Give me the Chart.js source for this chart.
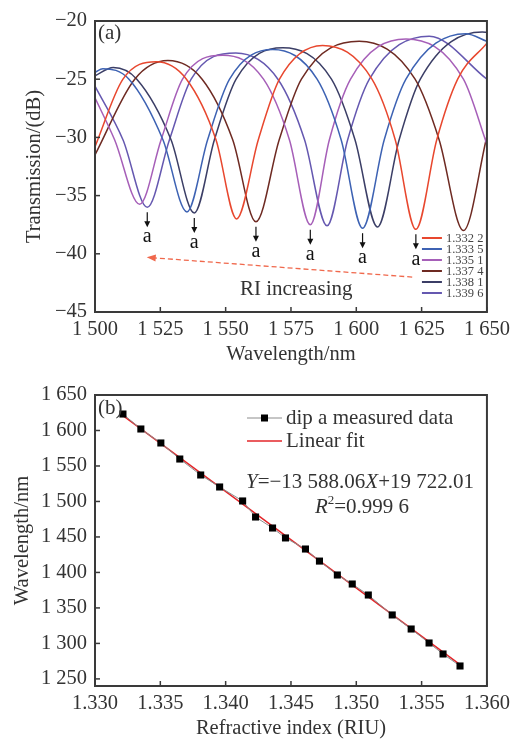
<!DOCTYPE html>
<html>
<head>
<meta charset="utf-8">
<script src="https://cdn.jsdelivr.net/npm/chart.js@4.4.0/dist/chart.umd.min.js"></script>
<style>
  html, body { margin: 0; padding: 0; background: #fff; }
  #wrapA { position: absolute; left: 0; top: 0; width: 515px; height: 370px; }
  #wrapB { position: absolute; left: 0; top: 370px; width: 515px; height: 373px; }
</style>
</head>
<body>
<div id="wrapA"><canvas id="chartA" width="515" height="370"></canvas></div>
<div id="wrapB"><canvas id="chartB" width="515" height="373"></canvas></div>
<script>
// ---- (a) transmission spectra ----
const riLabels = ['1.332 2', '1.333 5', '1.335 1', '1.337 4', '1.338 1', '1.339 6'];
const lineColors = ['#e8472e', '#3d62b3', '#a65fb8', '#6e2a22', '#3b3e66', '#6558b0'];

const wl1 = [1500, 1510.7, 1523.4, 1535, 1546.3, 1554.2, 1562.5, 1570.6, 1587.1, 1606, 1614.9, 1622.8, 1630.8, 1638.8, 1650];
const db1 = [-30.8, -25, -23.5, -25, -30.2, -37.0, -30.2, -25, -22.1, -25, -30.2, -37.9, -30.2, -25, -21.9];

const wl2 = [1500, 1503, 1513, 1526.0, 1535.2, 1543.1, 1551.5, 1568, 1585, 1594.2, 1602.4, 1610.7, 1619, 1641.9, 1650];
const db2 = [-24.4, -24.1, -25, -30.2, -36.4, -30.2, -25, -22.45, -25, -30.2, -37.8, -30.2, -25, -21.1, -21.75];

const wl3 = [1500, 1507.5, 1517.1, 1525.3, 1533.5, 1548.9, 1564.5, 1574.4, 1582.4, 1589.7, 1597.8, 1619, 1641, 1650];
const db3 = [-26.6, -30.2, -35.75, -30.2, -25, -22.95, -25, -30.2, -37.5, -30.2, -25, -21.55, -25, -30.6];

const wl4 = [1500, 1515.2, 1527.9, 1541, 1552.7, 1561.6, 1570.5, 1579, 1601.1, 1622.5, 1631.7, 1641, 1650];
const db4 = [-31.5, -25, -23.4, -25, -30.2, -37.25, -30.2, -25, -21.75, -25, -30.2, -38.0, -29.9];

const wl5 = [1500, 1507, 1516, 1529.1, 1538.0, 1545.7, 1554, 1571.8, 1590.5, 1599.5, 1608.1, 1616.4, 1624.5, 1648.2, 1650];
const db5 = [-24.7, -24.0, -25, -30.2, -36.5, -30.2, -25, -22.3, -25, -30.2, -37.7, -30.2, -25, -20.95, -20.96];

const wl6 = [1500, 1510.7, 1520.0, 1528.5, 1536.8, 1553.9, 1570, 1580.2, 1588.8, 1596.7, 1605, 1627.9, 1650];
const db6 = [-25.6, -30.2, -36.0, -30.2, -25, -22.75, -25, -30.2, -37.6, -30.2, -25, -21.3, -25.0];

// dip "a" positions (arrows)
const dipAWl = [1622.8, 1602.4, 1582.4, 1561.6, 1538.0, 1520.0];
const dipADb = [-37.9, -37.8, -37.5, -37.25, -36.5, -36.0];
// dashed "RI increasing" arrow, tail -> head
const riArrowWl = [1621.4, 1519.8];
const riArrowDb = [-42.0, -40.3];

const xTicksA = [1500, 1525, 1550, 1575, 1600, 1625, 1650];
const xTickLabelsA = ['1 500', '1 525', '1 550', '1 575', '1 600', '1 625', '1 650'];
const yTicksA = [-45, -40, -35, -30, -25, -20];
const yTickLabelsA = ['\u221245', '\u221240', '\u221235', '\u221230', '\u221225', '\u221220'];

// ---- (b) dip a wavelength vs refractive index ----
const riData = [1.33214, 1.33351, 1.33504, 1.33649, 1.33809, 1.33954, 1.34130, 1.34229, 1.34359, 1.34458,
                1.34611, 1.34718, 1.34855, 1.34969, 1.35092, 1.35275, 1.35420, 1.35557, 1.35664, 1.35794];
const dipData = [1623.2, 1602.1, 1582.4, 1559.8, 1537.3, 1520.4, 1500.7, 1478.1, 1462.6, 1448.6,
                 1433.0, 1416.0, 1396.4, 1383.7, 1368.2, 1340.1, 1320.3, 1300.6, 1285.1, 1268.2];
const fitRi = [1.33214, 1.35794];
const fitWl = [1621.0, 1270.2];

const xTicksB = [1.330, 1.335, 1.340, 1.345, 1.350, 1.355, 1.360];
const xTickLabelsB = ['1.330', '1.335', '1.340', '1.345', '1.350', '1.355', '1.360'];
const yTicksB = [1250, 1300, 1350, 1400, 1450, 1500, 1550, 1600, 1650];
const yTickLabelsB = ['1 250', '1 300', '1 350', '1 400', '1 450', '1 500', '1 550', '1 600', '1 650'];

const SERIF = '"Liberation Serif", "Times New Roman", serif';
const INK = '#333';
Chart.defaults.font.family = SERIF;
Chart.defaults.color = INK;

function pts(xs, ys) { return xs.map((x, i) => ({ x: x, y: ys[i] })); }

function axis(min, max, ticks, labels, box, isX, title, titlePad, tickPad) {
  return {
    type: 'linear', min: min, max: max,
    afterBuildTicks: s => { s.ticks = ticks.map(v => ({ value: v })); },
    afterFit: s => { if (isX) s.height = box; else s.width = box; },
    ticks: {
      callback: v => labels[ticks.indexOf(v)],
      autoSkip: false, maxRotation: 0, padding: tickPad,
      color: INK, font: { size: 20.5, family: SERIF }
    },
    grid: { display: true, drawOnChartArea: false, drawTicks: false },
    border: { display: false },
    title: { display: true, text: title, color: INK, font: { size: 20.5, family: SERIF }, padding: titlePad }
  };
}

// frame + inward ticks
const frameTicks = {
  id: 'frameTicks',
  afterDatasetsDraw(chart) {
    const { ctx, chartArea: a, scales: { x, y } } = chart;
    ctx.save();
    ctx.strokeStyle = '#3a3a3a';
    ctx.lineWidth = 1.5;
    x.ticks.forEach(t => {
      const px = x.getPixelForValue(t.value);
      ctx.beginPath(); ctx.moveTo(px, a.bottom); ctx.lineTo(px, a.bottom - 5); ctx.stroke();
    });
    y.ticks.forEach(t => {
      const py = y.getPixelForValue(t.value);
      ctx.beginPath(); ctx.moveTo(a.left, py); ctx.lineTo(a.left + 5, py); ctx.stroke();
    });
    ctx.lineWidth = 2;
    ctx.strokeRect(a.left, a.top, a.right - a.left, a.bottom - a.top);
    ctx.restore();
  }
};

const annotA = {
  id: 'annotA',
  afterDraw(chart) {
    const { ctx, chartArea: a, scales: { x, y } } = chart;
    ctx.save();
    // dip arrows + "a"
    ctx.strokeStyle = '#111'; ctx.fillStyle = '#111'; ctx.lineWidth = 1.2;
    ctx.font = '20px ' + SERIF; ctx.textAlign = 'center'; ctx.textBaseline = 'middle';
    dipAWl.forEach((w, i) => {
      const px = x.getPixelForValue(w), py = y.getPixelForValue(dipADb[i]);
      ctx.beginPath(); ctx.moveTo(px, py + 5); ctx.lineTo(px, py + 15); ctx.stroke();
      ctx.beginPath(); ctx.moveTo(px - 3, py + 14); ctx.lineTo(px + 3, py + 14); ctx.lineTo(px, py + 20); ctx.closePath(); ctx.fill();
      ctx.fillText('a', px, py + 30);
    });
    // red dashed arrow
    const x0 = x.getPixelForValue(riArrowWl[0]), y0 = y.getPixelForValue(riArrowDb[0]);
    const x1 = x.getPixelForValue(riArrowWl[1]), y1 = y.getPixelForValue(riArrowDb[1]);
    const ang = Math.atan2(y1 - y0, x1 - x0);
    ctx.strokeStyle = '#f0684c'; ctx.fillStyle = '#f0684c'; ctx.lineWidth = 1.3;
    ctx.setLineDash([5, 3]);
    ctx.beginPath(); ctx.moveTo(x0, y0); ctx.lineTo(x1 - 7 * Math.cos(ang), y1 - 7 * Math.sin(ang)); ctx.stroke();
    ctx.setLineDash([]);
    ctx.beginPath();
    ctx.moveTo(x1, y1);
    ctx.lineTo(x1 - 9 * Math.cos(ang) + 3.5 * Math.sin(ang), y1 - 9 * Math.sin(ang) - 3.5 * Math.cos(ang));
    ctx.lineTo(x1 - 9 * Math.cos(ang) - 3.5 * Math.sin(ang), y1 - 9 * Math.sin(ang) + 3.5 * Math.cos(ang));
    ctx.closePath(); ctx.fill();
    // RI increasing
    ctx.fillStyle = INK; ctx.font = '21px ' + SERIF;
    ctx.fillText('RI increasing', x.getPixelForValue(1577), y.getPixelForValue(-43.1));
    // (a)
    ctx.textAlign = 'left';
    ctx.fillText('(a)', a.left + 3, a.top + 12);
    // legend
    ctx.font = '12.5px ' + SERIF; ctx.lineWidth = 2;
    chart.data.datasets.forEach((ds, i) => {
      const ly = a.bottom - 74 + i * 11;
      ctx.strokeStyle = ds.borderColor;
      ctx.beginPath(); ctx.moveTo(a.right - 65, ly); ctx.lineTo(a.right - 45, ly); ctx.stroke();
      ctx.fillStyle = '#444';
      ctx.fillText(ds.label, a.right - 41, ly + 0.5);
    });
    ctx.restore();
  }
};

new Chart(document.getElementById('chartA'), {
  type: 'scatter',
  data: {
    datasets: [wl1, wl2, wl3, wl4, wl5, wl6].map((w, i) => ({
      label: riLabels[i],
      data: pts(w, [db1, db2, db3, db4, db5, db6][i]),
      showLine: true, borderColor: lineColors[i], borderWidth: 1.5,
      pointRadius: 0, cubicInterpolationMode: 'monotone'
    }))
  },
  options: {
    responsive: false, animation: false,
    layout: { padding: { left: 0, right: 27, top: 21, bottom: 0 } },
    plugins: { legend: { display: false }, tooltip: { enabled: false } },
    scales: {
      x: axis(1500, 1650, xTicksA, xTickLabelsA, 58, true, 'Wavelength/nm', { top: 0, bottom: 3 }, 5),
      y: axis(-45, -20, yTicksA, yTickLabelsA, 95, false, 'Transmission/(dB)', { top: 22, bottom: 0 }, 8)
    }
  },
  plugins: [frameTicks, annotA]
});

function drawParts(ctx, parts, cx, cy) {
  let w = 0;
  parts.forEach(p => { ctx.font = p[1]; w += ctx.measureText(p[0]).width; });
  let xx = cx - w / 2;
  parts.forEach(p => {
    ctx.font = p[1];
    ctx.fillText(p[0], xx, cy + (p[2] || 0));
    xx += ctx.measureText(p[0]).width;
  });
}

const annotB = {
  id: 'annotB',
  afterDraw(chart) {
    const { ctx, chartArea: a } = chart;
    ctx.save();
    ctx.fillStyle = INK; ctx.textBaseline = 'middle'; ctx.textAlign = 'left';
    ctx.font = '21px ' + SERIF;
    ctx.fillText('(b)', a.left + 3, a.top + 13);
    // legend
    const lx0 = a.left + 152, lx1 = a.left + 187;
    const ds0 = chart.data.datasets[0], ds1 = chart.data.datasets[1];
    ctx.lineWidth = 1; ctx.strokeStyle = ds0.borderColor;
    ctx.beginPath(); ctx.moveTo(lx0, a.top + 23); ctx.lineTo(lx1, a.top + 23); ctx.stroke();
    ctx.fillStyle = '#000';
    ctx.fillRect((lx0 + lx1) / 2 - 3.5, a.top + 19.5, 7, 7);
    ctx.lineWidth = 1.5; ctx.strokeStyle = ds1.borderColor;
    ctx.beginPath(); ctx.moveTo(lx0, a.top + 46); ctx.lineTo(lx1, a.top + 46); ctx.stroke();
    ctx.fillStyle = INK; ctx.font = '21px ' + SERIF;
    ctx.fillText(ds0.label, lx1 + 4, a.top + 23);
    ctx.fillText(ds1.label, lx1 + 4, a.top + 46);
    // equation
    const it = 'italic 21px ' + SERIF, rm = '21px ' + SERIF, sm = '13px ' + SERIF;
    drawParts(ctx, [['Y', it], ['=\u221213 588.06', rm], ['X', it], ['+19 722.01', rm]], a.left + 265, a.top + 87);
    drawParts(ctx, [['R', it], ['2', sm, -6], ['=0.999 6', rm]], a.left + 267, a.top + 112);
    ctx.restore();
  }
};

new Chart(document.getElementById('chartB'), {
  type: 'scatter',
  data: {
    datasets: [
      {
        label: 'dip a measured data', data: pts(riData, dipData), showLine: true,
        borderColor: '#8c8c8c', borderWidth: 1, pointStyle: 'rect', pointRadius: 5,
        pointBackgroundColor: '#000', pointBorderColor: '#000', pointBorderWidth: 0
      },
      {
        label: 'Linear fit', data: pts(fitRi, fitWl), showLine: true,
        borderColor: '#e3262a', borderWidth: 1.5, pointRadius: 0
      }
    ]
  },
  options: {
    responsive: false, animation: false,
    layout: { padding: { left: 0, right: 27, top: 25, bottom: 0 } },
    plugins: { legend: { display: false }, tooltip: { enabled: false } },
    scales: {
      x: axis(1.330, 1.360, xTicksB, xTickLabelsB, 57, true, 'Refractive index (RIU)', { top: 0, bottom: 2 }, 5),
      y: axis(1240, 1650, yTicksB, yTickLabelsB, 95, false, 'Wavelength/nm', { top: 10, bottom: 0 }, 8)
    }
  },
  plugins: [frameTicks, annotB]
});
</script>
</body>
</html>
